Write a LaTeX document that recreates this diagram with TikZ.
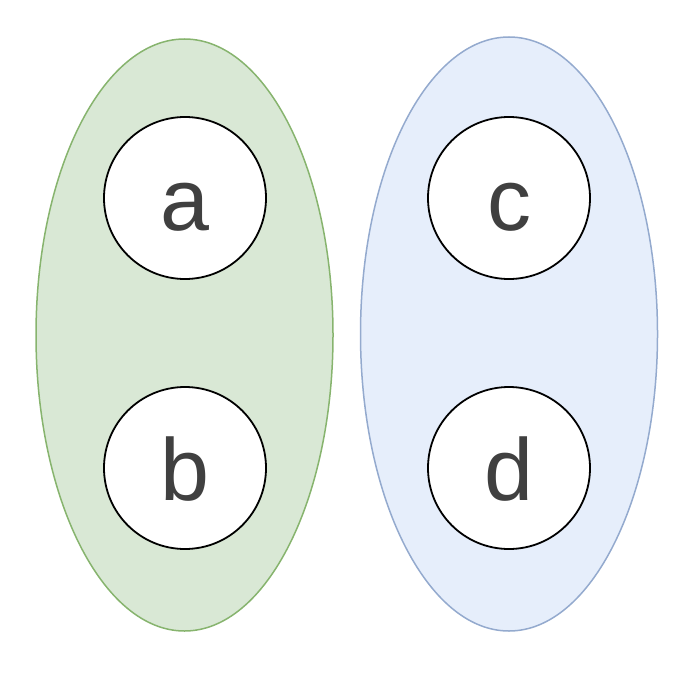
\documentclass[tikz,border=0pt]{standalone}
\usepackage{fontspec}
\setmainfont{Liberation Sans}
\usetikzlibrary{shapes.geometric}
\definecolor{gfill}{HTML}{D9E8D5}
\definecolor{gline}{HTML}{87B46E}
\definecolor{bfill}{HTML}{E6EEFB}
\definecolor{bline}{HTML}{94AACE}
\definecolor{txt}{HTML}{404040}
\tikzset{
  grp/.style={ellipse, inner sep=0pt, minimum width=297pt, minimum height=592pt, line width=1.5pt},
  item/.style={circle, draw=black, fill=white, line width=1.8pt, inner sep=0pt, minimum size=162pt,
    font=\fontsize{88}{88}\selectfont, text=txt, text height=64pt, text depth=0pt}
}
\begin{document}
\begin{tikzpicture}[x=1pt,y=-1pt]
\useasboundingbox (0,0) rectangle (684,674);
\node[grp, draw=gline, fill=gfill] (g1) at (184.5,335) {};
\node[grp, draw=bline, fill=bfill, minimum height=594pt] (g2) at (509,334) {};
\node[item] (a) at (185,198) {a};
\node[item] (b) at (185,468) {b};
\node[item] (c) at (509,198) {c};
\node[item] (d) at (509,468) {d};
\end{tikzpicture}
\end{document}
